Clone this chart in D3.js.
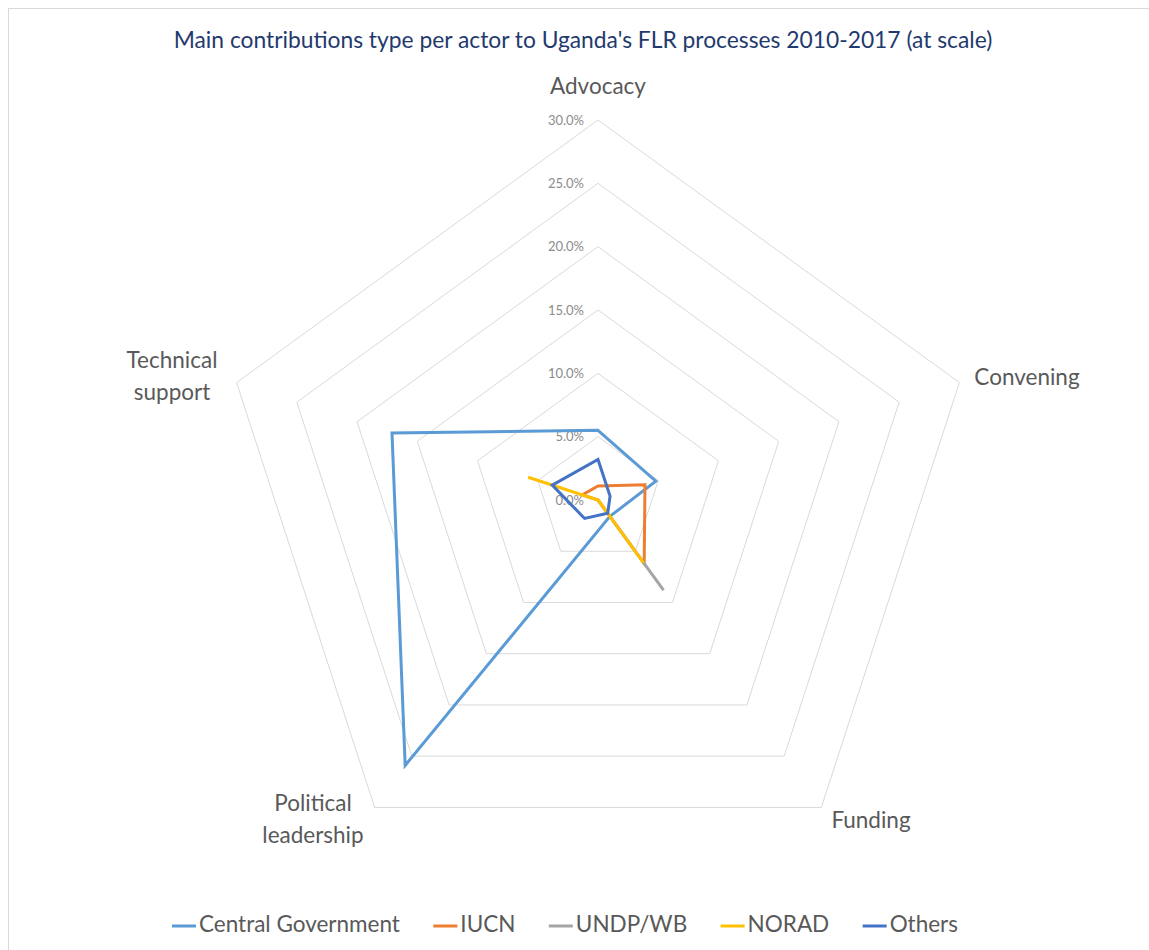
<!DOCTYPE html>
<html>
<head>
<meta charset="utf-8">
<script src="https://cdn.jsdelivr.net/npm/d3@7"></script>
<style>
  html, body { margin: 0; padding: 0; background: #fff; }
  svg { display: block; font-family: Lato, "Open Sans", sans-serif; }
</style>
</head>
<body>
<svg id="chart" width="1149" height="950"></svg>
<script>
// Contribution categories (radar axes), clockwise from the top
const categories = ["Advocacy", "Convening", "Funding", "Political leadership", "Technical support"];
const categoryLines = [["Advocacy"], ["Convening"], ["Funding"], ["Political", "leadership"], ["Technical", "support"]];

// Share of contributions (%) per actor, in category order
const centralGovernment = [5.5, 4.8, 1.6, 25.9, 17.1];
const iucn              = [1.1, 3.9, 6.2, 0.0, 1.3];
const undpWb            = [0.0, 0.0, 8.8, 0.0, 0.0];
const norad             = [0.0, 0.0, 6.1, 0.0, 5.8];
const others            = [3.2, 1.0, 1.3, 1.8, 3.8];

const seriesNames  = ["Central Government", "IUCN", "UNDP/WB", "NORAD", "Others"];
const seriesValues = [centralGovernment, iucn, undpWb, norad, others];
const seriesColors = ["#5B9BD5", "#ED7D31", "#A5A5A5", "#FFC000", "#4472C4"];

// Radial axis ticks
const tickValues = [0, 5, 10, 15, 20, 25, 30];
const tickLabels = ["0.0%", "5.0%", "10.0%", "15.0%", "20.0%", "25.0%", "30.0%"];

const title = "Main contributions type per actor to Uganda's FLR processes 2010-2017 (at scale)";

const svg = d3.select("#chart");
const W = 1149, H = 950;
const cx = 598, cy = 500;

// outer frame
svg.append("rect")
  .attr("x", 8.5).attr("y", 8.5)
  .attr("width", W).attr("height", H)
  .attr("fill", "none").attr("stroke", "#D9D9D9").attr("stroke-width", 1);

const r = d3.scaleLinear().domain([0, 30]).range([0, 380]);
const angle = d3.scalePoint().domain(d3.range(categories.length + 1)).range([0, 2 * Math.PI]);
const pt = (i, v) => {
  const a = angle(i);
  return [cx + r(v) * Math.sin(a), cy - r(v) * Math.cos(a)];
};

// pentagonal grid rings
const grid = svg.append("g");
tickValues.forEach(t => {
  const pts = categories.map((c, i) => pt(i, t));
  grid.append("polygon")
    .attr("points", pts.map(p => p.join(",")).join(" "))
    .attr("fill", "none").attr("stroke", "#D9D9D9").attr("stroke-width", 1);
});

// tick labels along the top axis
svg.append("g").selectAll("text").data(tickValues).join("text")
  .attr("x", cx - 14)
  .attr("y", d => pt(0, d)[1])
  .attr("dy", "0.35em")
  .attr("text-anchor", "end")
  .attr("font-size", 13)
  .attr("fill", "#8C8C8C")
  .text((d, i) => tickLabels[i]);

// series lines
const line = d3.line().curve(d3.curveLinearClosed);
svg.append("g").selectAll("path").data(seriesValues).join("path")
  .attr("d", vals => line(vals.map((v, i) => pt(i, v))))
  .attr("fill", "none")
  .attr("stroke", (d, i) => seriesColors[i])
  .attr("stroke-width", 3)
  .attr("stroke-linejoin", "miter");

// axis category labels
const labelPos = [
  { x: 598, y: 88 },
  { x: 1027, y: 379 },
  { x: 871, y: 822 },
  { x: 313, y: 805 },
  { x: 172, y: 362 }
];
const labels = svg.append("g").attr("font-size", 22.5).attr("fill", "#595959");
categoryLines.forEach((lines, i) => {
  const t = labels.append("text")
    .attr("x", labelPos[i].x).attr("y", labelPos[i].y)
    .attr("text-anchor", "middle")
    .attr("dominant-baseline", "middle");
  lines.forEach((s, k) => {
    t.append("tspan").attr("x", labelPos[i].x).attr("dy", k === 0 ? 0 : 32).text(s);
  });
});

// title
svg.append("text")
  .attr("x", 583).attr("y", 42)
  .attr("text-anchor", "middle")
  .attr("dominant-baseline", "middle")
  .attr("font-size", 22.8)
  .attr("fill", "#1F3A6E")
  .text(title);

// legend: items spread with equal gaps between a left and right edge
const legendLeft = 172, legendRight = 958, swatch = 24, pad = 3;
const legend = svg.append("g").attr("font-size", 22.5).attr("fill", "#595959");
const items = seriesNames.map((name, i) => {
  const g = legend.append("g");
  g.append("line").attr("x1", 0).attr("x2", swatch).attr("y1", 0).attr("y2", 0)
    .attr("stroke", seriesColors[i]).attr("stroke-width", 3);
  const t = g.append("text").attr("x", swatch + pad).attr("dominant-baseline", "middle").text(name);
  return { g, w: swatch + pad + t.node().getComputedTextLength() };
});
const totalW = d3.sum(items, d => d.w);
const gap = (legendRight - legendLeft - totalW) / (items.length - 1);
let xPos = legendLeft;
items.forEach(d => {
  d.g.attr("transform", `translate(${xPos},926)`);
  xPos += d.w + gap;
});
</script>
</body>
</html>
